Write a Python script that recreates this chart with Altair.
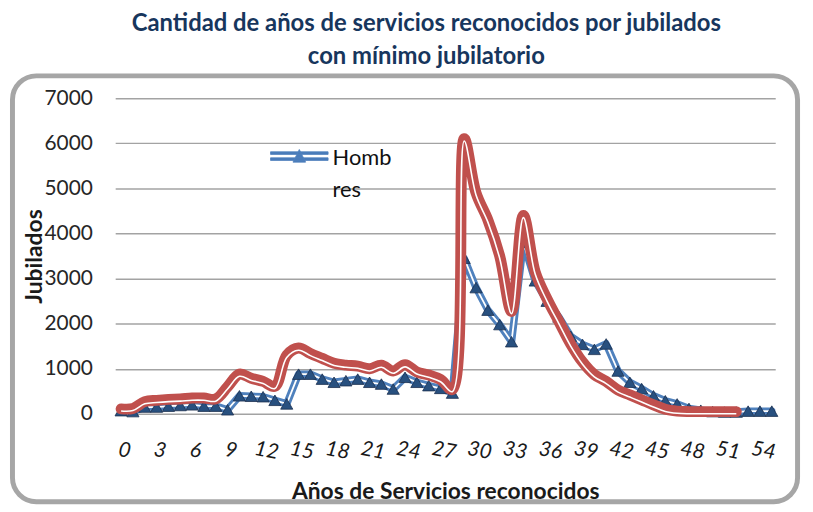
import altair as alt
import pandas as pd

# ---- data ----
anos_h = list(range(0, 56))
hombres = [70, 50, 150, 150, 170, 185, 200, 170, 170, 90,
           400, 390, 380, 300, 220, 880, 880, 770, 700, 735,
           770, 700, 660, 550, 810, 700, 625, 565, 460, 3450,
           2800, 2300, 1980, 1600, 3800, 2950, 2500, 2150, 1720, 1540,
           1430, 1550, 950, 700, 560, 400, 290, 220, 120, 80,
           50, 40, 40, 60, 60, 60]

anos_m = list(range(0, 53))
mujeres = [110, 120, 270, 300, 320, 330, 350, 350, 330, 600,
           880, 790, 720, 610, 1300, 1460, 1340, 1230, 1120, 1080,
           1060, 1000, 1080, 950, 1090, 930, 860, 760, 540, 6100,
           4900, 4300, 3500, 2270, 4400, 3150, 2550, 2050, 1550, 1150,
           870, 720, 530, 420, 310, 200, 100, 60, 50, 50,
           50, 50, 50]

x_ticks = list(range(0, 55, 3))
y_ticks = [0, 1000, 2000, 3000, 4000, 5000, 6000, 7000]

titulo = ["Cantidad de años de servicios reconocidos por jubilados",
          "con mínimo jubilatorio"]
serie_h = "Hombres"

df_h = pd.DataFrame({"x": anos_h, "y": hombres, "serie": serie_h})
df_m = pd.DataFrame({"x": anos_m, "y": mujeres})

FONT = "Lato"
W, H = 665, 318

xscale = alt.Scale(domain=[-0.5, 55.29], nice=False, zero=False)
yscale = alt.Scale(domain=[0, 7000], nice=False)

xax = alt.X("x:Q", scale=xscale,
            axis=alt.Axis(values=x_ticks, title="Años de Servicios reconocidos",
                          grid=False, domain=False, ticks=False, labelOverlap=False,
                          labelFont=FONT, labelFontSize=21, labelFontStyle="italic",
                          labelColor="#1a1a1a", labelAngle=10, labelAlign="center",
                          labelBaseline="middle", labelPadding=37, labelFlush=False,
                          labelOffset=3,
                          titleFont=FONT, titleFontSize=23, titleFontWeight="bold",
                          titleColor="#1a1a1a", titleY=78, titleBaseline="middle"))
yax = alt.Y("y:Q", scale=yscale,
            axis=alt.Axis(values=y_ticks, title="Jubilados", grid=True, format="d",
                          gridColor="#a3a3a3", gridWidth=1.5, domain=False, ticks=False,
                          labelFont=FONT, labelFontSize=21, labelColor="#262626",
                          labelPadding=23, labelFlush=False,
                          titleFont=FONT, titleFontSize=23, titleFontWeight="bold",
                          titleColor="#1a1a1a", titleX=-81, titleY=159,
                          titleAngle=-90, titleAlign="center", titleBaseline="middle"))

legend_path = ("M-1,0.12 H1 V0.21 H-1 Z M-1,0.33 H1 V0.42 H-1 Z "
               "M-0.22,0.48 L0,0.04 L0.22,0.48 Z")

base_h = alt.Chart(df_h)
blue_line = base_h.mark_line(strokeWidth=7.5, strokeJoin="round", strokeCap="round").encode(
    color=alt.Color("serie:N", scale=alt.Scale(domain=[serie_h], range=["#4F81BD"]),
                    legend=alt.Legend(orient="none", legendX=156, legendY=21, title=None,
                                      padding=0, symbolType=legend_path, symbolSize=3364,
                                      symbolFillColor="#4A7CBA", symbolStrokeColor="#4A7CBA",
                                      symbolStrokeWidth=0.8, labelOffset=4,
                                      labelFont=FONT, labelFontSize=22, labelColor="#111111",
                                      labelBaseline="top", labelLimit=200,
                                      labelExpr="['Homb', 'res']")))
blue_inner = base_h.mark_line(strokeWidth=1.8, color="white", strokeJoin="round")
blue_pts = base_h.mark_point(shape="triangle-up", filled=True, size=150, color="#28507F",
                             stroke="#1B2F4E", strokeWidth=0.8, opacity=1)

base_m = alt.Chart(df_m)
red_line = base_m.mark_line(strokeWidth=11, color="#C0504D", interpolate="catmull-rom",
                            strokeJoin="round", strokeCap="round")
red_inner = base_m.mark_line(strokeWidth=1.6, color="white", interpolate="catmull-rom").encode(
    yOffset=alt.value(2.2))

frame = alt.Chart(pd.DataFrame({"k": [0]})).mark_rect(
    fill="white", fillOpacity=0, stroke="#a6a6a6", strokeWidth=5, cornerRadius=24).encode(
    x=alt.value(-103.5), x2=alt.value(687.5), y=alt.value(-22.5), y2=alt.value(406.5))

data_layers = alt.layer(blue_line, blue_inner, blue_pts, red_line, red_inner).encode(
    x=xax, y=yax)

chart = alt.layer(frame, data_layers).properties(
    width=W, height=H,
    title=alt.TitleParams(text=titulo, font=FONT, fontSize=24, fontWeight="bold",
                          color="#17365D", lineHeight=34, anchor="middle", dx=-19,
                          offset=4),
    autosize=alt.AutoSizeParams(type="none"),
    padding={"left": 108, "top": 89, "right": 30, "bottom": 96},
    background="white",
).configure(style={"guide-label": {"lineHeight": 32}}).configure_axis(
    labelOverlap=False).configure_view(stroke=None)

chart.save("out.html", embed_options={"renderer": "svg", "actions": False})
